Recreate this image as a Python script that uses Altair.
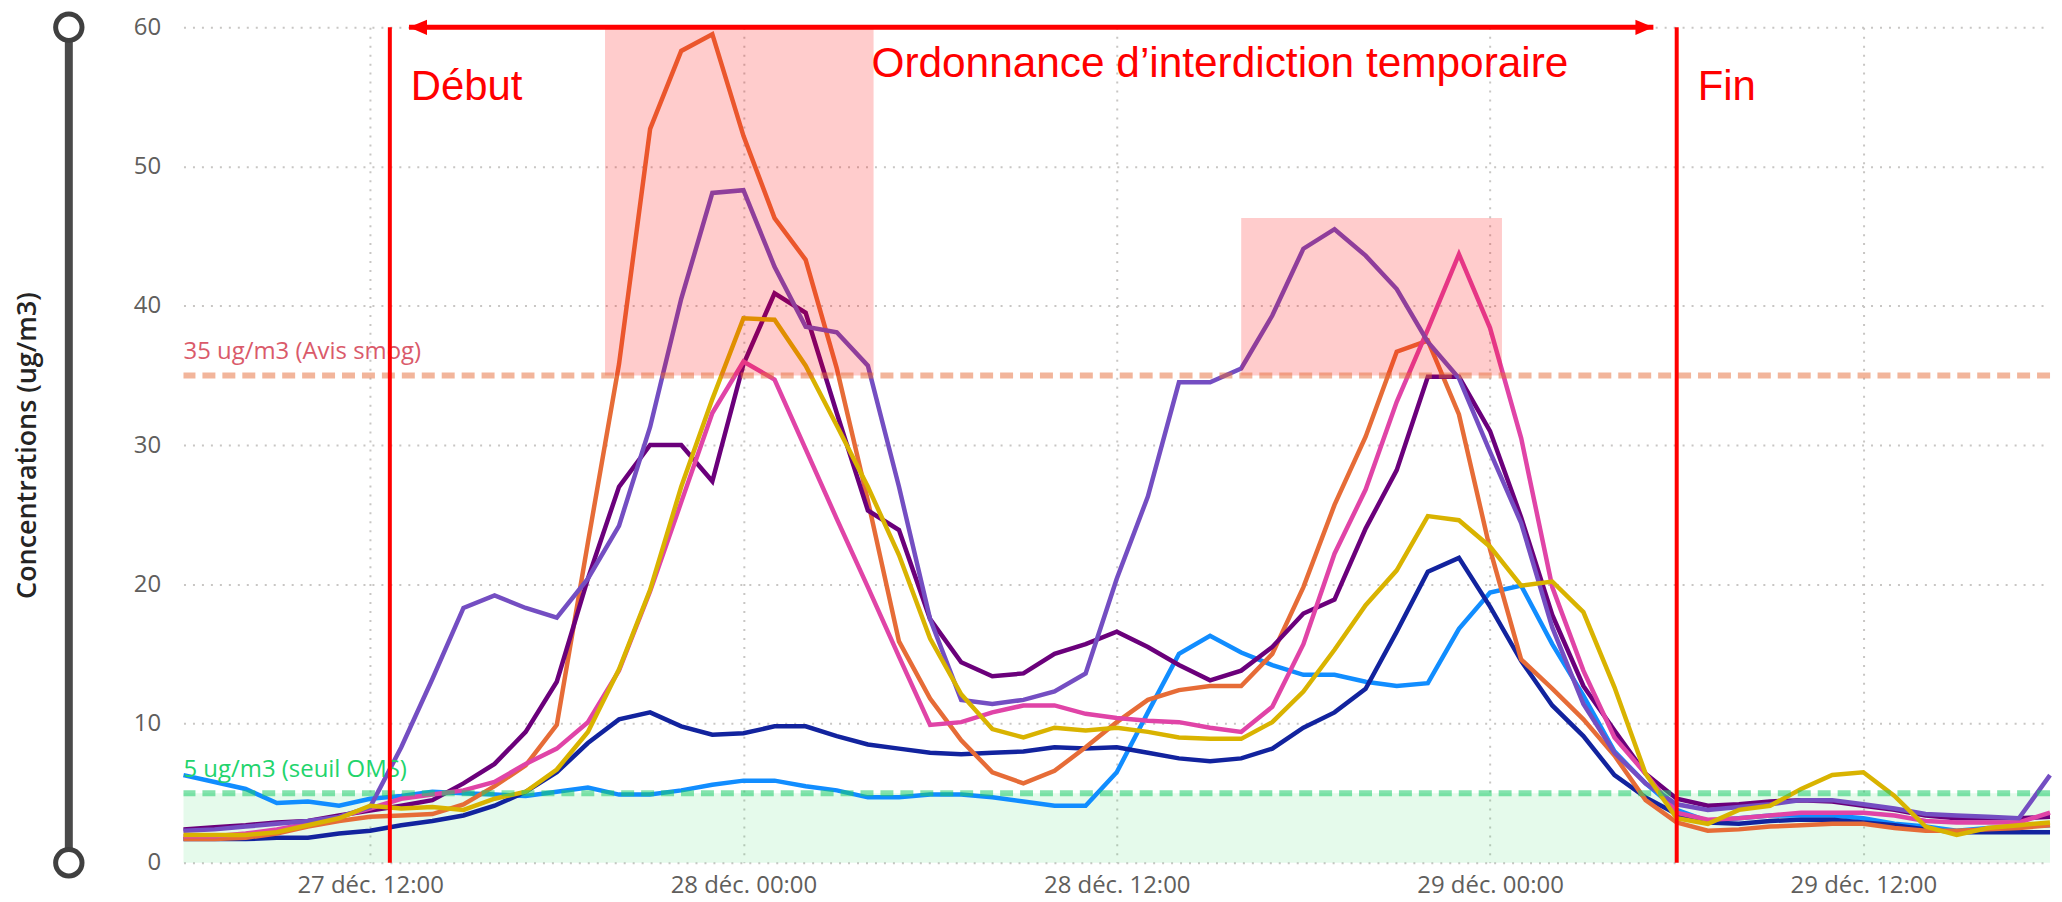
import json
import altair as alt
import pandas as pd

# ------------------------------------------------------------------ data
START = "2022-12-27 06:00"
END = "2022-12-29 18:00"
TIMES = pd.date_range(START, END, freq="h")  # hourly stamps

SERIES = ["Station 1", "Station 2", "Station 3", "Station 4",
          "Station 5", "Station 6", "Station 7"]
COLORS = ["#118DFF", "#12239E", "#E66C37", "#6B007B",
          "#E044A7", "#744EC2", "#D9B300"]

LIGHT_BLUE = [6.3, 5.8, 5.3, 4.3, 4.4, 4.1, 4.6, 4.8, 5.1, 5.0,
              4.9, 4.8, 5.1, 5.4, 4.9, 4.9, 5.2, 5.6, 5.9, 5.9,
              5.5, 5.2, 4.7, 4.7, 4.9, 4.9, 4.7, 4.4, 4.1, 4.1,
              6.5, 10.8, 15.0, 16.3, 15.1, 14.2, 13.5, 13.5, 13.0, 12.7,
              12.9, 16.8, 19.4, 19.9, 15.7, 12.0, 8.0, 5.7, 3.8, 3.0,
              3.2, 3.4, 3.4, 3.4, 3.2, 2.8, 2.6, 2.3, 2.5, 2.6, 2.7]
NAVY = [1.7, 1.7, 1.7, 1.8, 1.8, 2.1, 2.3, 2.7, 3.0, 3.4,
        4.1, 5.1, 6.5, 8.6, 10.3, 10.8, 9.8, 9.2, 9.3, 9.8,
        9.8, 9.1, 8.5, 8.2, 7.9, 7.8, 7.9, 8.0, 8.3, 8.2,
        8.3, 7.9, 7.5, 7.3, 7.5, 8.2, 9.7, 10.8, 12.5, 16.6,
        20.9, 21.9, 18.4, 14.5, 11.3, 9.1, 6.3, 4.7, 3.5, 2.9,
        2.8, 3.0, 3.1, 3.1, 2.9, 2.7, 2.4, 2.2, 2.2, 2.2, 2.2]
ORANGE = [1.7, 1.7, 1.8, 2.1, 2.6, 3.0, 3.3, 3.4, 3.5, 4.2,
          5.5, 7.0, 9.9, 23.0, 35.8, 52.7, 58.3, 59.5, 52.2, 46.3,
          43.3, 35.5, 26.0, 15.9, 11.8, 8.8, 6.5, 5.7, 6.6, 8.3,
          10.1, 11.7, 12.4, 12.7, 12.7, 15.0, 19.8, 25.7, 30.6, 36.7,
          37.5, 32.2, 22.5, 14.6, 12.5, 10.3, 7.7, 4.5, 2.9, 2.3,
          2.4, 2.6, 2.7, 2.8, 2.8, 2.5, 2.3, 2.3, 2.4, 2.5, 2.7]
DARK_PURPLE = [2.4, 2.55, 2.7, 2.9, 3.0, 3.4, 3.75, 4.1, 4.5, 5.7,
               7.1, 9.4, 13.0, 20.4, 27.0, 30.0, 30.0, 27.4, 35.8, 40.9,
               39.5, 32.3, 25.3, 23.9, 17.5, 14.4, 13.4, 13.6, 15.0, 15.7,
               16.6, 15.5, 14.2, 13.1, 13.8, 15.5, 17.9, 18.9, 24.0, 28.2,
               34.9, 34.9, 31.0, 24.8, 17.8, 12.7, 9.5, 6.4, 4.6, 4.1,
               4.2, 4.4, 4.5, 4.4, 4.1, 3.8, 3.4, 3.2, 3.2, 3.2, 3.3]
PINK = [1.9, 1.9, 2.1, 2.4, 2.8, 3.3, 3.9, 4.6, 4.9, 5.2,
        5.8, 7.1, 8.2, 10.1, 13.8, 19.5, 25.9, 32.3, 36.0, 34.7,
        29.7, 24.7, 19.8, 14.8, 9.9, 10.1, 10.8, 11.3, 11.3, 10.7,
        10.4, 10.2, 10.1, 9.7, 9.4, 11.2, 15.7, 22.2, 26.8, 33.1,
        38.3, 43.7, 38.4, 30.5, 19.8, 13.8, 9.0, 6.4, 3.6, 3.1,
        3.2, 3.4, 3.6, 3.6, 3.6, 3.4, 3.0, 2.9, 2.9, 2.9, 3.6]
MED_PURPLE = [2.3, 2.4, 2.6, 2.8, 3.0, 3.3, 4.0, 8.3, 13.2, 18.3,
              19.2, 18.3, 17.6, 20.4, 24.2, 31.3, 40.5, 48.1, 48.3, 42.8,
              38.5, 38.1, 35.7, 27.0, 17.5, 11.7, 11.4, 11.7, 12.3, 13.6,
              20.4, 26.3, 34.5, 34.5, 35.5, 39.3, 44.1, 45.5, 43.6, 41.2,
              37.4, 34.8, 29.5, 24.4, 16.9, 11.4, 7.9, 5.7, 4.2, 3.8,
              4.0, 4.2, 4.5, 4.5, 4.2, 3.9, 3.5, 3.4, 3.3, 3.2, 6.3]
YELLOW = [2.0, 2.0, 2.0, 2.2, 2.7, 3.2, 4.1, 3.9, 4.0, 3.8,
          4.6, 5.1, 6.7, 9.4, 13.9, 19.6, 27.0, 33.3, 39.1, 39.0,
          35.7, 31.4, 27.0, 22.1, 16.1, 12.1, 9.6, 9.0, 9.7, 9.5,
          9.7, 9.4, 9.0, 8.9, 8.9, 10.1, 12.3, 15.3, 18.5, 21.0,
          24.9, 24.6, 22.7, 19.9, 20.2, 18.0, 12.6, 6.4, 3.2, 2.8,
          3.8, 4.1, 5.3, 6.3, 6.5, 4.8, 2.6, 2.0, 2.5, 2.7, 2.9]
VALUES = [LIGHT_BLUE, NAVY, ORANGE, DARK_PURPLE, PINK, MED_PURPLE, YELLOW]

X_TICKS = ["2022-12-27 12:00", "2022-12-28 00:00", "2022-12-28 12:00",
           "2022-12-29 00:00", "2022-12-29 12:00"]
X_TICK_LABELS = ["27 déc. 12:00", "28 déc. 00:00", "28 déc. 12:00",
                 "29 déc. 00:00", "29 déc. 12:00"]
Y_TICKS = [0, 10, 20, 30, 40, 50, 60]
Y_TITLE = "Concentrations (ug/m3)"

SMOG_LEVEL = 35
SMOG_LABEL = "35 ug/m3 (Avis smog)"
OMS_LEVEL = 5
OMS_LABEL = "5 ug/m3 (seuil OMS)"

DEBUT = "2022-12-27 12:38"
FIN = "2022-12-29 06:00"
ARROW_START = "2022-12-27 13:15"
ARROW_END = "2022-12-29 05:15"
ORDER_TEXT = "Ordonnance d’interdiction temporaire"
DEBUT_TEXT = "Début"
FIN_TEXT = "Fin"

ZONE_START = ["2022-12-27 19:33", "2022-12-28 16:00"]
ZONE_END = ["2022-12-28 04:11", "2022-12-29 00:23"]
ZONE_LOW = [35, 35]
ZONE_HIGH = [60, 46.3]

# ------------------------------------------------------------------ layout
WIDTH, HEIGHT = 1872, 838
LABEL_FONT = "Segoe UI, Open Sans, sans-serif"
RED_FONT = "Arial, Liberation Sans, sans-serif"
RED = "#FF0000"


def dt(s):
    ts = pd.Timestamp(s)
    return alt.DateTime(year=ts.year, month=ts.month, date=ts.day,
                        hours=ts.hour, minutes=ts.minute)


keys = [pd.Timestamp(s).strftime("%Y-%m-%d %H:%M") for s in X_TICKS]
label_expr = (json.dumps(X_TICK_LABELS, ensure_ascii=False)
              + "[indexof(" + json.dumps(keys)
              + ", timeFormat(datum.value, '%Y-%m-%d %H:%M'))]")

x_axis = alt.Axis(values=[dt(s) for s in X_TICKS], labelExpr=label_expr,
                  grid=True, gridColor="#C8C6C4", gridDash=[2, 7], gridWidth=2,
                  domain=False, ticks=False, tickSize=0, labelPadding=30,
                  labelBaseline="alphabetic", labelFlush=False,
                  labelOverlap=False, labelFont=LABEL_FONT, labelFontSize=24,
                  labelColor="#605E5C", title=None)
y_axis = alt.Axis(values=Y_TICKS, grid=True, gridColor="#C8C6C4",
                  gridDash=[2, 7], gridWidth=2, domain=False, ticks=False,
                  tickSize=0, labelPadding=23, labelFont=LABEL_FONT,
                  labelFontSize=24, labelColor="#605E5C",
                  title=Y_TITLE, titleX=-156, titleY=HEIGHT / 2,
                  titleAngle=270, titleAlign="center", titleBaseline="middle",
                  titleFont=LABEL_FONT, titleFontSize=27, titleFontWeight=600,
                  titleColor="#252423")

X = alt.X("t:T", scale=alt.Scale(domain=[dt(START), dt(END)], nice=False),
          axis=x_axis, title=None)
Y = alt.Y("v:Q", scale=alt.Scale(domain=[0, 60], nice=False), axis=y_axis)


def frame(**cols):
    df = pd.DataFrame(cols)
    for c in ("t", "t2"):
        if c in df:
            df[c] = pd.to_datetime(df[c])
    return df


layers = []

# green zone below WHO threshold
layers.append(
    alt.Chart(frame(t=[START], t2=[END], v=[0], v2=[OMS_LEVEL]))
    .mark_rect(color="#2AD65A", opacity=0.12)
    .encode(x=X, x2=alt.X2("t2"), y=Y, y2=alt.Y2("v2"))
)

# series lines
for name, color, vals in zip(SERIES, COLORS, VALUES):
    df = pd.DataFrame({"t": TIMES, "v": vals, "s": name})
    layers.append(
        alt.Chart(df).mark_line(color=color, strokeWidth=4.5).encode(x=X, y=Y)
    )

# pink highlight zones
layers.append(
    alt.Chart(frame(t=ZONE_START, t2=ZONE_END, v=ZONE_LOW, v2=ZONE_HIGH))
    .mark_rect(color=RED, opacity=0.2)
    .encode(x=X, x2=alt.X2("t2"), y=Y, y2=alt.Y2("v2"))
)

# constant lines + labels
layers.append(
    alt.Chart(frame(v=[SMOG_LEVEL]))
    .mark_rule(color="#E66C37", opacity=0.5, strokeWidth=6, strokeDash=[13, 7])
    .encode(y=Y)
)
layers.append(
    alt.Chart(frame(v=[OMS_LEVEL]))
    .mark_rule(color="#1DCC6A", opacity=0.55, strokeWidth=6, strokeDash=[13, 7])
    .encode(y=Y)
)
layers.append(
    alt.Chart(frame(t=[START], v=[SMOG_LEVEL], label=[SMOG_LABEL]))
    .mark_text(align="left", baseline="alphabetic", dy=-16, font=LABEL_FONT,
               fontSize=24, color="#DA5A6A")
    .encode(x=X, y=Y, text="label:N")
)
layers.append(
    alt.Chart(frame(t=[START], v=[OMS_LEVEL], label=[OMS_LABEL]))
    .mark_text(align="left", baseline="alphabetic", dy=-16, font=LABEL_FONT,
               fontSize=24, color="#22D46C")
    .encode(x=X, y=Y, text="label:N")
)

# red vertical markers
layers.append(
    alt.Chart(frame(t=[DEBUT, FIN]))
    .mark_rule(color=RED, strokeWidth=4)
    .encode(x=X)
)

# double arrow
layers.append(
    alt.Chart(frame(t=[ARROW_START], t2=[ARROW_END], v=[60]))
    .mark_rule(color=RED, strokeWidth=5)
    .encode(x=X, x2=alt.X2("t2"), y=Y)
)
layers.append(
    alt.Chart(frame(t=[ARROW_START], v=[60]))
    .mark_point(shape="M0,0L2,-0.85L2,0.85Z", size=324, filled=True,
                color=RED, opacity=1)
    .encode(x=X, y=Y)
)
layers.append(
    alt.Chart(frame(t=[ARROW_END], v=[60]))
    .mark_point(shape="M0,0L-2,-0.85L-2,0.85Z", size=324, filled=True,
                color=RED, opacity=1)
    .encode(x=X, y=Y)
)

# red texts
layers.append(
    alt.Chart(frame(t=[DEBUT, FIN], v=[60, 60], label=[DEBUT_TEXT, FIN_TEXT]))
    .mark_text(align="left", baseline="alphabetic", dx=21, dy=73,
               font=RED_FONT, fontSize=42, color=RED)
    .encode(x=X, y=Y, text="label:N")
)
layers.append(
    alt.Chart(frame(t=[DEBUT], v=[60], label=[ORDER_TEXT]))
    .mark_text(align="left", baseline="alphabetic", dx=483, dy=50,
               font=RED_FONT, fontSize=42.5, color=RED)
    .encode(x=X, y=Y, text="label:N")
)

# range slider decoration on the left
layers.append(
    alt.Chart(frame(v=[60], v2=[0]))
    .mark_rule(color="#4A4A4A", strokeWidth=8)
    .encode(x=alt.value(-115), y=Y, y2=alt.Y2("v2"))
)
layers.append(
    alt.Chart(frame(v=[60, 0]))
    .mark_point(shape="circle", size=700, filled=True, fill="white",
                stroke="#404040", strokeWidth=5, opacity=1, fillOpacity=1,
                strokeOpacity=1)
    .encode(x=alt.value(-115), y=Y)
)

chart = (
    alt.layer(*layers)
    .properties(width=WIDTH, height=HEIGHT,
                autosize=alt.AutoSizeParams(type="none"),
                padding={"left": 176, "top": 18, "right": 4, "bottom": 38})
    .configure_view(stroke=None)
)

chart.save("out.html", embed_options={"renderer": "svg", "actions": False})
